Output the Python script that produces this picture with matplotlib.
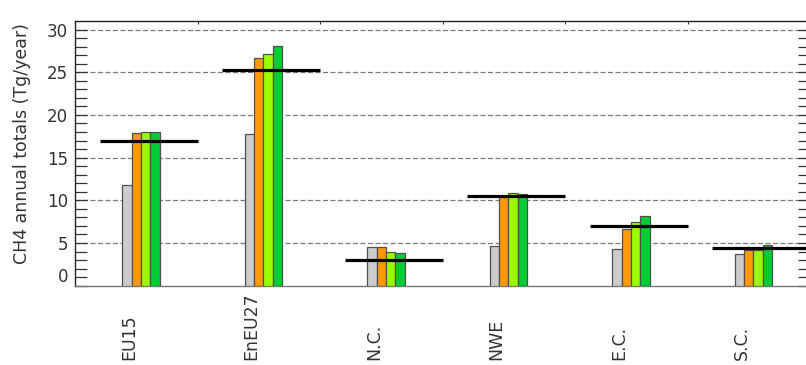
import numpy as np
import matplotlib.pyplot as plt
import matplotlib.transforms as mtransforms

regions = ["EU15", "EnEU27", "N.C.", "NWE", "E.C.", "S.C."]

# CH4 annual totals per region (Tg/year), four model estimates + reference value
grey_vals = [11.74, 17.8, 4.56, 4.68, 4.26, 3.71]
orange_vals = [17.9, 26.7, 4.56, 10.34, 6.63, 4.18]
lgreen_vals = [18.03, 27.16, 3.9, 10.85, 7.49, 4.18]
green_vals = [18.03, 28.13, 3.79, 10.77, 8.16, 4.8]
ref_vals = [16.93, 25.28, 2.97, 10.46, 6.98, 4.37]

series = [grey_vals, orange_vals, lgreen_vals, green_vals]
colors = ["#cccccc", "#ff9900", "#99ff00", "#00cc33"]

fig = plt.figure(figsize=(8.06, 3.65), dpi=100)
ax = fig.add_axes([75 / 806, 1 - 285.7 / 365, 735 / 806, 264.7 / 365])

x = np.arange(len(regions))
bw = 0.076
first = 0.386
for j, (vals, col) in enumerate(zip(series, colors)):
    ax.bar(x + first + j * bw, vals, width=bw, align="edge", color=col,
           edgecolor="#505050", linewidth=0.9, zorder=3)

# reference totals as thick horizontal bars
ax.hlines(ref_vals, x + 0.2, x + 1.0, colors="black", linewidth=2.3, zorder=4)

ax.set_xlim(0, 6)
ax.set_ylim(0, 31)

ax.set_yticks(np.arange(0, 31, 5))
ax.set_yticks(np.arange(0, 31, 1), minor=True)
ax.tick_params(axis="y", which="both", direction="in", length=8.6, width=0.9,
               left=True, right=True, color="#333333", labelsize=12,
               labelcolor="#333333", pad=5)
ax.get_yticklabels()[0].set_va("bottom")

ax.set_xticks(np.arange(1, 7))
ax.tick_params(axis="x", which="both", direction="in", length=2, top=True,
               bottom=False, labelbottom=False, color="#333333")

for yv in range(5, 31, 5):
    ax.axhline(yv, color="#7a7a7a", linestyle=(0, (4, 2)), linewidth=0.9, zorder=1)

for s in ["left", "top"]:
    ax.spines[s].set_color("#222222")
    ax.spines[s].set_linewidth(1.0)
ax.spines["bottom"].set_color("#777777")
ax.spines["bottom"].set_linewidth(1.0)
ax.spines["right"].set_visible(False)

# region names below the axis
trans = mtransforms.blended_transform_factory(ax.transData, ax.transAxes)
for xi, name in zip(x, regions):
    ax.text(xi + 0.44, -0.282, name, rotation=90, ha="center", va="bottom",
            fontsize=12.5, color="#333333", transform=trans)

fig.text(21.7 / 806, 1 - 144 / 365, "CH4 annual totals (Tg/year)", rotation=90,
         ha="center", va="center", fontsize=12.5, color="#333333")

fig.savefig("out.png", dpi=100)
